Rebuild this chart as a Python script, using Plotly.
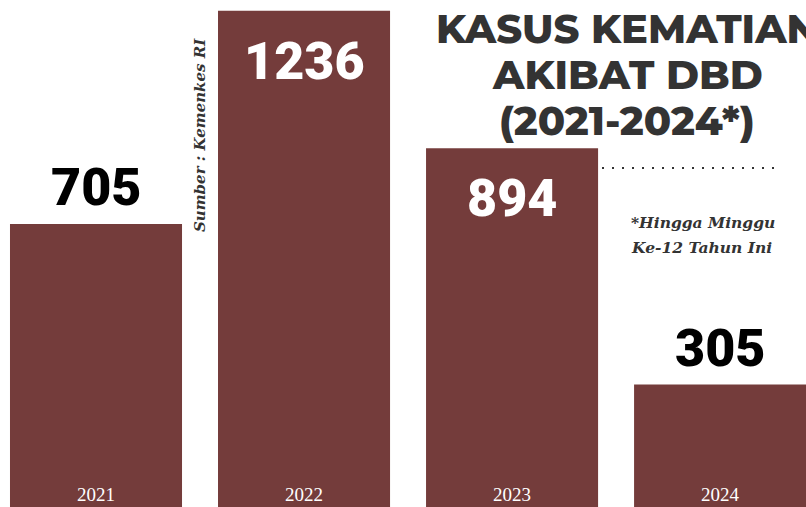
import plotly.graph_objects as go

years = ["2021", "2022", "2023", "2024"]
deaths = [705, 1236, 894, 305]
label_inside = [False, True, True, False]

title_lines = ["KASUS KEMATIAN", "AKIBAT DBD", "(2021-2024*)"]
source_text = "Sumber : Kemenkes RI"
note_lines = ["*Hingga Minggu", "Ke-12 Tahun Ini"]

BAR = "#743c3b"
DARK = "#333333"
NUM_FONT = "Roboto, Lato, sans-serif"
SERIF = "DejaVu Serif, Liberation Serif, serif"

fig = go.Figure()
fig.add_trace(go.Bar(x=years, y=deaths, width=0.827, marker=dict(color=BAR, line=dict(width=0)),
                     hoverinfo="skip"))

annotations = []
for i, (yr, val, inside) in enumerate(zip(years, deaths, label_inside)):
    annotations.append(dict(
        x=i, y=val, xref="x", yref="y", text=str(val), showarrow=False,
        yanchor="top" if inside else "bottom", yshift=-18 if inside else 4,
        font=dict(family=NUM_FONT, size=52, weight=900, color="white" if inside else "black"),
    ))
    annotations.append(dict(
        x=i, y=0, xref="x", yref="y", text=yr, showarrow=False, yanchor="bottom", yshift=0,
        font=dict(family="Liberation Serif, DejaVu Serif, serif", size=19, color="white"),
    ))

for i, line in enumerate(title_lines):
    annotations.append(dict(
        x=0.778, y=1 - (2 + 46 * i) / 507, xref="paper", yref="paper", text=line, showarrow=False,
        xanchor="center", yanchor="top",
        font=dict(family="Montserrat, Inter, Open Sans, sans-serif", size=40, weight=800, color=DARK),
    ))

annotations.append(dict(
    x=200 / 806, y=1 - 135 / 507, xref="paper", yref="paper", text=source_text, showarrow=False,
    textangle=-90, xanchor="center", yanchor="middle",
    font=dict(family=SERIF, size=15, weight="bold", style="italic", color=DARK),
))
for i, line in enumerate(note_lines):
    annotations.append(dict(
        x=629 / 806, y=1 - (211 + 25 * i) / 507, xref="paper", yref="paper", text=line, showarrow=False,
        xanchor="left", yanchor="top", align="left",
        font=dict(family=SERIF, size=15.5, weight="bold", style="italic", color=DARK),
    ))

fig.update_layout(
    width=806, height=507,
    margin=dict(l=0, r=0, t=0, b=0, pad=0),
    paper_bgcolor="white", plot_bgcolor="white",
    showlegend=False,
    xaxis=dict(type="category", range=[-0.4615, 3.413], visible=False, fixedrange=True),
    yaxis=dict(range=[0, 1263], visible=False, fixedrange=True),
    annotations=annotations,
    shapes=[dict(type="line", xref="paper", yref="paper", x0=472 / 806, x1=782 / 806,
                 y0=1 - 168 / 507, y1=1 - 168 / 507, layer="below",
                 line=dict(color=DARK, width=2, dash="2px,8px"))],
)

fig.write_html("out.html", config={"displayModeBar": False},
               post_script="document.body.style.margin='0';document.body.style.overflow='hidden';")
